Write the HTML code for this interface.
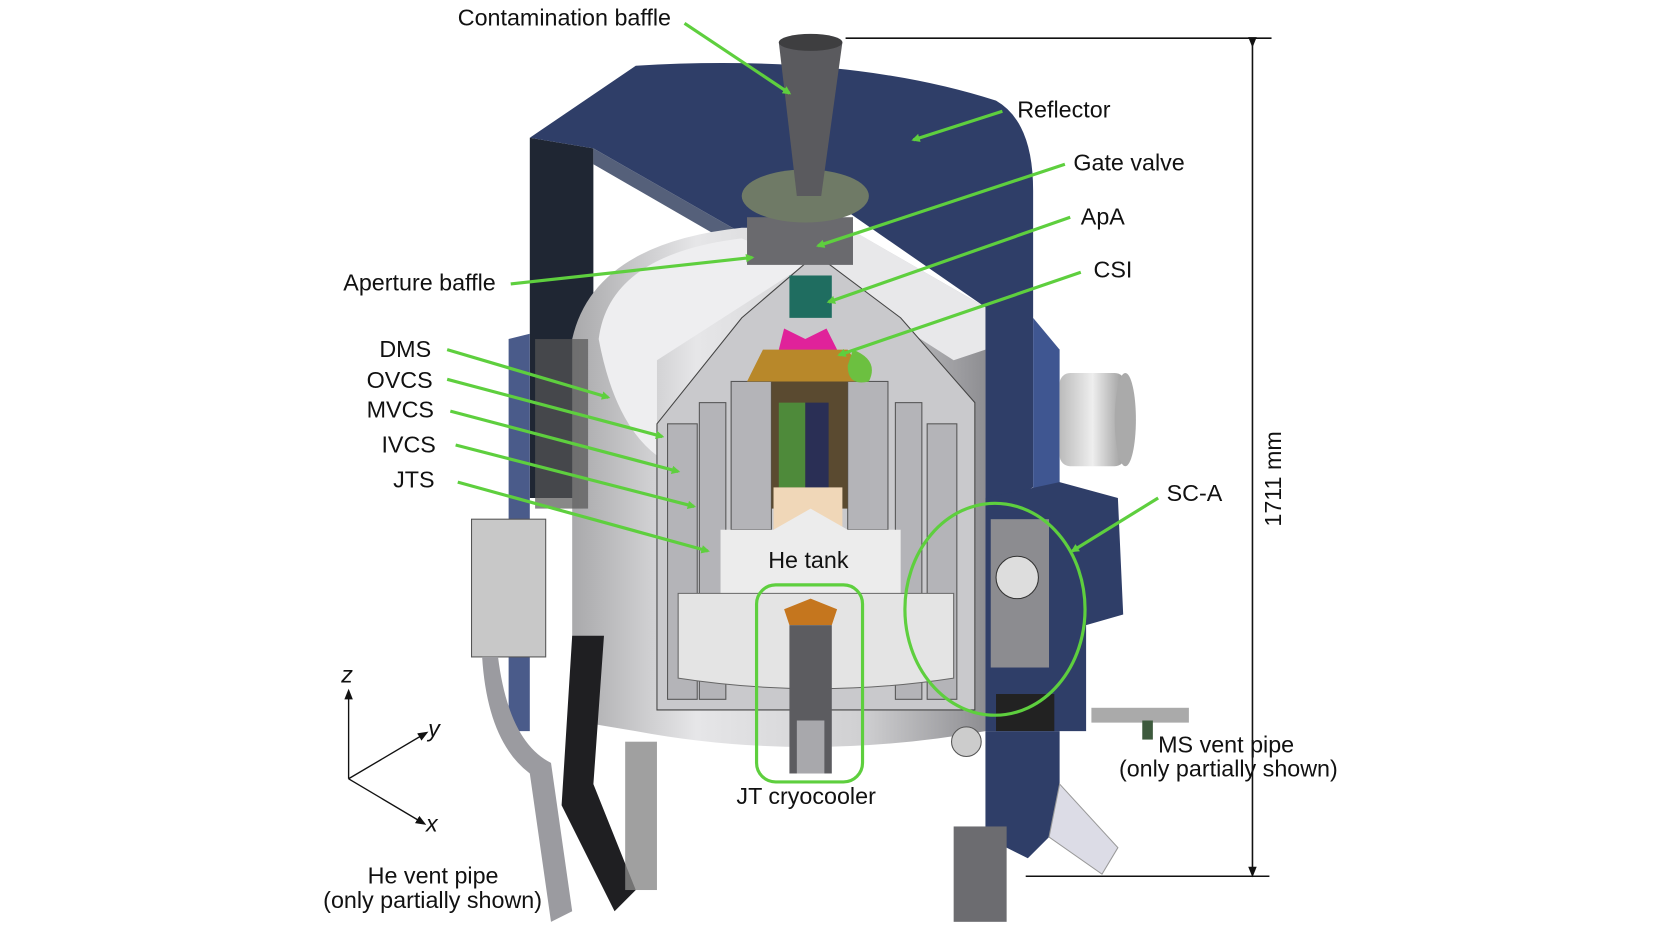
<!DOCTYPE html>
<html><head><meta charset="utf-8"><style>
html,body{margin:0;padding:0;background:#fff;width:1653px;height:925px;overflow:hidden}
svg{display:block}
text{font-family:"Liberation Sans",sans-serif;font-size:22px;fill:#111}
</style></head><body>
<svg width="1653" height="925" viewBox="0 0 1560 873" preserveAspectRatio="none" xmlns="http://www.w3.org/2000/svg">
<defs>
<marker id="ag" markerWidth="8" markerHeight="8" refX="6" refY="4" orient="auto" markerUnits="userSpaceOnUse"><path d="M0,0 L8,4 L0,8 z" fill="#5ecf3e"/></marker>
<marker id="ak" markerWidth="10" markerHeight="10" refX="5" refY="5" orient="auto" markerUnits="userSpaceOnUse"><path d="M0,1 L10,5 L0,9 z" fill="#111"/></marker>
<linearGradient id="cyl" x1="0" x2="1"><stop offset="0" stop-color="#a9a9ab"/><stop offset="0.3" stop-color="#e6e6e8"/><stop offset="0.7" stop-color="#d0d0d2"/><stop offset="1" stop-color="#8e8e92"/></linearGradient>
<linearGradient id="gr" x1="0" x2="1"><stop offset="0" stop-color="#bbb"/><stop offset="0.5" stop-color="#eee"/><stop offset="1" stop-color="#999"/></linearGradient>
</defs>
<path d="M500 130 L560 140 L560 470 L500 470 Z" fill="#1f2633"/>
<path d="M500 130 L600 62 Q800 50 940 95 Q975 115 975 180 L975 460 L930 480 L930 290 L800 200 L700 220 L560 140 Z" fill="#2f3e68"/>
<path d="M560 140 L700 220 L690 230 L560 155 Z" fill="#55607a"/>
<path d="M975 300 L1000 330 L1000 460 L975 470 Z" fill="#3f5691"/>
<path d="M480 320 L500 315 L500 690 L480 690 Z" fill="#4a5b8a"/>
<rect x="1000" y="352" width="62" height="88" rx="10" fill="url(#gr)"/>
<ellipse cx="1062" cy="396" rx="10" ry="44" fill="#aaa"/>
<path d="M540 320 Q560 230 700 215 L800 215 L930 290 L930 690 Q760 720 600 690 L540 680 Z" fill="url(#cyl)"/>
<path d="M565 320 Q575 240 700 225 L760 250 L620 340 L620 430 Q580 400 565 320 Z" fill="#eeeef0"/>
<path d="M930 290 L800 215 L760 250 L900 340 L930 330 Z" fill="#e8e8ea"/>
<rect x="445" y="490" width="70" height="130" fill="#c8c8c8" stroke="#555"/>
<rect x="505" y="320" width="50" height="160" fill="#555" opacity="0.7"/>
<path d="M620 400 L700 300 L770 240 L850 300 L920 380 L920 670 L620 670 Z" fill="#c9c9cc" stroke="#444"/>
<g fill="#b4b4b8" stroke="#555" stroke-width="1">
<rect x="630" y="400" width="28" height="260"/>
<rect x="660" y="380" width="25" height="280"/>
<rect x="690" y="360" width="38" height="140"/>
<rect x="800" y="360" width="38" height="140"/>
<rect x="845" y="380" width="25" height="280"/>
<rect x="875" y="400" width="28" height="260"/>
</g>
<rect x="728" y="350" width="72" height="130" fill="#5a4a30"/>
<rect x="735" y="380" width="25" height="80" fill="#4e8a3a"/>
<rect x="760" y="380" width="22" height="90" fill="#2a2f55"/>
<rect x="730" y="460" width="65" height="40" fill="#f0d7b8"/>
<path d="M740 310 L760 320 L780 310 L790 330 L760 340 L735 330 Z" fill="#e0229a"/>
<rect x="745" y="260" width="40" height="40" fill="#1f6d60"/>
<path d="M720 330 L800 330 L820 360 L705 360 Z" fill="#b8882a"/>
<path d="M805 330 Q830 340 820 360 Q800 365 800 345 Z" fill="#6cc040"/>
<path d="M680 500 L730 500 L765 480 L800 500 L850 500 L850 560 L680 560 Z" fill="#ececec"/>
<path d="M640 560 L900 560 L900 640 Q770 660 640 640 Z" fill="#e4e4e4" stroke="#666"/>
<path d="M740 575 L765 565 L790 575 L785 590 L745 590 Z" fill="#c5761e"/>
<rect x="745" y="590" width="40" height="140" fill="#5c5c60"/>
<rect x="752" y="680" width="26" height="50" fill="#a8a8ac"/>
<rect x="705" y="205" width="100" height="45" fill="#6a6a6e"/>
<ellipse cx="760" cy="185" rx="60" ry="25" fill="#6f7a66"/>
<path d="M735 40 Q765 28 795 40 L775 185 L752 185 Z" fill="#5a5a5e"/>
<ellipse cx="765" cy="40" rx="30" ry="8" fill="#3e3e40"/>
<path d="M930 470 L1000 455 L1055 470 L1060 580 L1025 590 L1025 690 L930 690 Z" fill="#2f3e68"/>
<rect x="935" y="490" width="55" height="140" fill="#8c8c90"/>
<circle cx="960" cy="545" r="20" fill="#ddd" stroke="#333"/>
<rect x="940" y="655" width="55" height="35" fill="#222"/>
<path d="M930 690 L1000 690 L1000 780 L970 810 L930 790 Z" fill="#2f3e68"/>
<path d="M1000 740 L1055 800 L1040 825 L990 790 Z" fill="#dcdce6" stroke="#999"/>
<rect x="900" y="780" width="50" height="90" fill="#6c6c70"/>
<path d="M540 600 L570 600 L560 740 L600 840 L580 860 L530 760 Z" fill="#1f1f22"/>
<path d="M470 620 Q480 700 520 720 L540 860 L520 870 L500 730 Q460 700 455 620 Z" fill="#9b9ba0"/>
<rect x="590" y="700" width="30" height="140" fill="#888" opacity="0.8"/>
<rect x="1030" y="668" width="92" height="14" fill="#aaa"/>
<rect x="1078" y="680" width="10" height="18" fill="#3d5a3d"/>
<circle cx="912" cy="700" r="14" fill="#ccc" stroke="#555"/>
<rect x="714" y="552" width="100" height="186" rx="18" fill="none" stroke="#5ecf3e" stroke-width="3"/>
<ellipse cx="939" cy="575" rx="85" ry="100" fill="none" stroke="#5ecf3e" stroke-width="3"/>
<g stroke="#5ecf3e" stroke-width="3" fill="none" marker-end="url(#ag)">
<line x1="646" y1="22" x2="745" y2="88"/>
<line x1="946" y1="105" x2="862" y2="132"/>
<line x1="1005" y1="155" x2="772" y2="232"/>
<line x1="1010" y1="205" x2="782" y2="285"/>
<line x1="1020" y1="257" x2="792" y2="335"/>
<line x1="482" y1="268" x2="710" y2="243"/>
<line x1="422" y1="330" x2="574" y2="375"/>
<line x1="422" y1="358" x2="625" y2="412"/>
<line x1="425" y1="388" x2="640" y2="445"/>
<line x1="430" y1="420" x2="655" y2="478"/>
<line x1="432" y1="455" x2="668" y2="520"/>
<line x1="1093" y1="470" x2="1012" y2="520"/>
</g>
<g stroke="#111" stroke-width="1.5">
<line x1="798" y1="36" x2="1200" y2="36"/>
<line x1="968" y1="827" x2="1198" y2="827"/>
<line x1="1182" y1="40" x2="1182" y2="823" marker-end="url(#ak)" marker-start="url(#ak)"/>
</g>
<text transform="translate(1209,452) rotate(-90)" text-anchor="middle" font-size="21">1711 mm</text>
<g stroke="#111" stroke-width="1.3" marker-end="url(#ak)">
<line x1="329" y1="735" x2="329" y2="655"/>
<line x1="329" y1="735" x2="400" y2="693"/>
<line x1="329" y1="735" x2="398" y2="776"/>
</g>
<text x="322" y="644" font-family="Liberation Serif" font-style="italic" font-size="18">z</text>
<text x="404" y="695" font-family="Liberation Serif" font-style="italic" font-size="18">y</text>
<text x="402" y="785" font-family="Liberation Serif" font-style="italic" font-size="18">x</text>
<text x="432" y="24">Contamination baffle</text>
<text x="960" y="111">Reflector</text>
<text x="1013" y="161">Gate valve</text>
<text x="1020" y="212">ApA</text>
<text x="1032" y="262">CSI</text>
<text x="324" y="274">Aperture baffle</text>
<text x="358" y="337">DMS</text>
<text x="346" y="366">OVCS</text>
<text x="346" y="394">MVCS</text>
<text x="360" y="427">IVCS</text>
<text x="371" y="460">JTS</text>
<text x="1101" y="473">SC-A</text>
<text x="725" y="536">He tank</text>
<text x="695" y="759">JT cryocooler</text>
<text x="1093" y="710">MS vent pipe</text>
<text x="1056" y="733">(only partially shown)</text>
<text x="347" y="834">He vent pipe</text>
<text x="305" y="857">(only partially shown)</text>
</svg>
</body></html>
